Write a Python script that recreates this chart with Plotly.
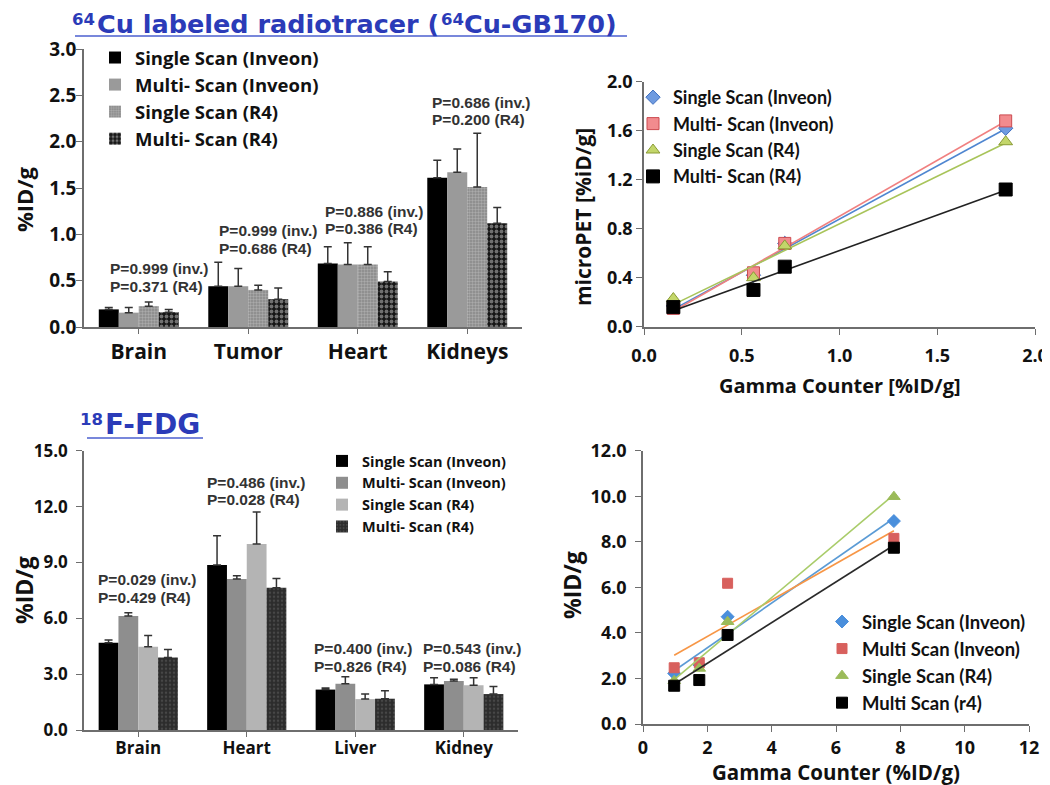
import numpy as np
import plotly.graph_objects as go

# ---------------- data ----------------
cu_organs = ["Brain", "Tumor", "Heart", "Kidneys"]
cu_single_inveon = [0.19, 0.44, 0.685, 1.61]
cu_single_inveon_err = [0.02, 0.26, 0.18, 0.19]
cu_multi_inveon = [0.155, 0.44, 0.675, 1.67]
cu_multi_inveon_err = [0.055, 0.19, 0.235, 0.25]
cu_single_r4 = [0.225, 0.40, 0.675, 1.51]
cu_single_r4_err = [0.045, 0.05, 0.19, 0.58]
cu_multi_r4 = [0.16, 0.30, 0.49, 1.12]
cu_multi_r4_err = [0.03, 0.12, 0.105, 0.17]
cu_p_inv = ["P=0.999 (inv.)", "P=0.999 (inv.)", "P=0.886 (inv.)", "P=0.686 (inv.)"]
cu_p_r4 = ["P=0.371 (R4)", "P=0.686 (R4)", "P=0.386 (R4)", "P=0.200 (R4)"]

cu_gamma = [0.15, 0.56, 0.72, 1.85]
cu_pet_single_inveon = [0.17, 0.42, 0.68, 1.62]
cu_pet_multi_inveon = [0.15, 0.44, 0.68, 1.68]
cu_pet_single_r4 = [0.23, 0.40, 0.66, 1.51]
cu_pet_multi_r4 = [0.16, 0.30, 0.49, 1.12]

fdg_organs = ["Brain", "Heart", "Liver", "Kidney"]
fdg_single_inveon = [4.69, 8.86, 2.17, 2.45]
fdg_single_inveon_err = [0.14, 1.57, 0.09, 0.36]
fdg_multi_inveon = [6.12, 8.11, 2.49, 2.63]
fdg_multi_inveon_err = [0.18, 0.18, 0.37, 0.09]
fdg_single_r4 = [4.47, 9.99, 1.66, 2.40]
fdg_single_r4_err = [0.61, 1.72, 0.27, 0.41]
fdg_multi_r4 = [3.90, 7.64, 1.68, 1.93]
fdg_multi_r4_err = [0.43, 0.50, 0.43, 0.40]
fdg_p_inv = ["P=0.029 (inv.)", "P=0.486 (inv.)", "P=0.400 (inv.)", "P=0.543 (inv.)"]
fdg_p_r4 = ["P=0.429 (R4)", "P=0.028 (R4)", "P=0.826 (R4)", "P=0.086 (R4)"]

fdg_gamma = [0.97, 1.75, 2.63, 7.8]
fdg_pet_single_inveon = [2.22, 2.60, 4.71, 8.91]
fdg_pet_multi_inveon = [2.47, 2.69, 6.18, 8.15]
fdg_pet_single_r4 = [1.90, 2.44, 4.49, 9.98]
fdg_pet_multi_r4 = [1.68, 1.93, 3.91, 7.74]

# ---------------- layout helpers ----------------
# the page body has an 8px margin, so the figure is 8px smaller on each side
OFF = 8
W, H = 1050 - OFF, 785 - OFF
def px(x):
    return (x - OFF) / W
def py(y):
    return 1 - (y - OFF) / H

OPEN = "'Open Sans', sans-serif"
LATO = "Lato, sans-serif"
ARIAL = "'Liberation Sans', Arial, sans-serif"
DEJA = "'DejaVu Sans', sans-serif"
AXC = "#6e6e6e"
BLUE = "#2b3bb8"

fig = go.Figure()

# ---------------- top-left bars ----------------
cu_bar_series = [
    ("Single Scan (Inveon)", cu_single_inveon, cu_single_inveon_err,
     dict(color="#000000")),
    ("Multi- Scan (Inveon)", cu_multi_inveon, cu_multi_inveon_err,
     dict(color="#9a9a9a")),
    ("Single Scan (R4)", cu_single_r4, cu_single_r4_err,
     dict(color="#888888", pattern=dict(shape=".", fgcolor="#aaaaaa", bgcolor="#888888",
                                       size=3, solidity=0.5, fillmode="replace"))),
    ("Multi- Scan (R4)", cu_multi_r4, cu_multi_r4_err,
     dict(color="#151515", pattern=dict(shape=".", fgcolor="#707070", bgcolor="#151515",
                                       size=5, solidity=0.45, fillmode="replace"))),
]
for name, vals, errs, mk in cu_bar_series:
    fig.add_trace(go.Bar(
        x=cu_organs, y=vals, name=name, marker=dict(line=dict(width=0), **mk),
        error_y=dict(type="data", symmetric=False, array=errs, arrayminus=[0] * len(errs),
                     color="#333333", thickness=1.5, width=4),
        xaxis="x", yaxis="y", legend="legend",
    ))

# ---------------- bottom-left bars ----------------
fdg_bar_series = [
    ("Single Scan (Inveon)", fdg_single_inveon, fdg_single_inveon_err,
     dict(color="#000000")),
    ("Multi- Scan (Inveon)", fdg_multi_inveon, fdg_multi_inveon_err,
     dict(color="#8e8e8e")),
    ("Single Scan (R4)", fdg_single_r4, fdg_single_r4_err,
     dict(color="#b4b4b4")),
    ("Multi- Scan (R4)", fdg_multi_r4, fdg_multi_r4_err,
     dict(color="#2c2c2c", pattern=dict(shape=".", fgcolor="#474747", bgcolor="#2c2c2c",
                                       size=4, solidity=0.3, fillmode="replace"))),
]
for name, vals, errs, mk in fdg_bar_series:
    fig.add_trace(go.Bar(
        x=fdg_organs, y=vals, name=name, marker=dict(line=dict(width=0), **mk),
        error_y=dict(type="data", symmetric=False, array=errs, arrayminus=[0] * len(errs),
                     color="#333333", thickness=1.5, width=4),
        xaxis="x3", yaxis="y3", legend="legend3",
    ))

# ---------------- scatter plots with linear trend lines ----------------
def add_scatter(xs, ys, name, symbol, color, edge, linecolor, size, xa, ya, leg):
    coef = np.polyfit(xs, ys, 1)
    lx = np.array([min(xs), max(xs)])
    fig.add_trace(go.Scatter(
        x=lx, y=np.polyval(coef, lx), mode="lines", line=dict(color=linecolor, width=1.6),
        showlegend=False, hoverinfo="skip", xaxis=xa, yaxis=ya,
    ))
    fig.add_trace(go.Scatter(
        x=xs, y=ys, mode="markers", name=name, legendgroup=leg + name,
        marker=dict(symbol=symbol, size=size, color=color, line=dict(color=edge, width=1)),
        xaxis=xa, yaxis=ya, legend=leg,
    ))

cu_scatter = [
    ("Single Scan (Inveon)", cu_pet_single_inveon, "diamond", "#6f9be0", "#3f6fc0", "#4f86d0", 11),
    ("Multi- Scan (Inveon)", cu_pet_multi_inveon, "square", "#f28b8e", "#cc4b50", "#f08080", 12),
    ("Single Scan (R4)", cu_pet_single_r4, "triangle-up", "#c3d66a", "#8a9b35", "#a8c45a", 12),
    ("Multi- Scan (R4)", cu_pet_multi_r4, "square", "#000000", "#000000", "#222222", 13),
]
for name, ys, sym, c, e, lc, s in cu_scatter:
    add_scatter(cu_gamma, ys, name, sym, c, e, lc, s, "x2", "y2", "legend2")

fdg_scatter = [
    ("Single Scan (Inveon)", fdg_pet_single_inveon, "diamond", "#4a8fdc", "#4a8fdc", "#5b9bd5", 10),
    ("Multi Scan (Inveon)", fdg_pet_multi_inveon, "square", "#d8605d", "#d8605d", "#f79646", 10),
    ("Single Scan (R4)", fdg_pet_single_r4, "triangle-up", "#9bbb59", "#9bbb59", "#a9cc6a", 11),
    ("Multi Scan (r4)", fdg_pet_multi_r4, "square", "#000000", "#000000", "#2a2a2a", 11),
]
for name, ys, sym, c, e, lc, s in fdg_scatter:
    add_scatter(fdg_gamma, ys, name, sym, c, e, lc, s, "x4", "y4", "legend4")

# ---------------- axes ----------------
def tf(size, family=OPEN):
    return dict(family=family, size=size, color="#111", weight="bold")

def axis_common(**kw):
    d = dict(showline=True, linecolor=AXC, linewidth=1.6, ticks="outside", ticklen=6,
             tickcolor=AXC, tickwidth=1.4, showgrid=False, zeroline=False, automargin=False,
             tickfont=tf(18))
    d.update(kw)
    return d

fig.update_layout(
    template="none",
    xaxis=axis_common(domain=[px(84), px(522)], anchor="y", tickfont=tf(21),
                      ticklen=5, ticklabelstandoff=0),
    yaxis=axis_common(domain=[py(327), py(49)], anchor="x", range=[0, 3.0], dtick=0.5,
                      tickformat=".1f", tickfont=tf(19), ticklabelstandoff=-4),
    xaxis2=axis_common(domain=[px(644), px(1035)], anchor="y2", range=[0, 2.0], dtick=0.5,
                       tickformat=".1f", ticklabelstandoff=6),
    yaxis2=axis_common(domain=[py(326.7), py(81.7)], anchor="x2", range=[0, 2.0], dtick=0.4,
                       tickformat=".1f", ticklabelstandoff=0),
    xaxis3=axis_common(domain=[px(84), px(518)], anchor="y3", tickfont=tf(17),
                       ticklen=5, ticklabelstandoff=-3),
    yaxis3=axis_common(domain=[py(730), py(450.7)], anchor="x3", range=[0, 15.0], dtick=3,
                       tickformat=".1f", tickfont=tf(17), ticklabelstandoff=5),
    xaxis4=axis_common(domain=[px(643), px(1029)], anchor="y4", range=[0, 12], dtick=2,
                       ticklabelstandoff=1),
    yaxis4=axis_common(domain=[py(724), py(450.7)], anchor="x4", range=[0, 12.0], dtick=2,
                       tickformat=".1f", ticklabelstandoff=5),
)

fig.update_layout(
    width=W, height=H, margin=dict(l=0, r=0, t=0, b=0, autoexpand=False),
    paper_bgcolor="white", plot_bgcolor="white",
    barmode="group", bargap=0.27, bargroupgap=0,
    legend=dict(x=px(95), y=py(39), xanchor="left", yanchor="top", bgcolor="rgba(0,0,0,0)",
                font=tf(18.5, OPEN)),
    legend2=dict(x=px(633), y=py(79), xanchor="left", yanchor="top", bgcolor="rgba(0,0,0,0)",
                 tracegroupgap=0, font=tf(18, LATO)),
    legend3=dict(x=px(322), y=py(445), xanchor="left", yanchor="top", bgcolor="rgba(0,0,0,0)",
                 font=tf(14.5, OPEN)),
    legend4=dict(x=px(822), y=py(603), xanchor="left", yanchor="top", bgcolor="rgba(0,0,0,0)",
                 tracegroupgap=0, font=tf(18.5, LATO)),
    showlegend=True,
)

# ---------------- text annotations ----------------
ann = []
def text(x, y, s, size, family=OPEN, color="#111", xanchor="center", angle=0, weight="bold"):
    ann.append(dict(x=px(x), y=py(y), xref="paper", yref="paper", text=s, showarrow=False,
                    xanchor=xanchor, yanchor="middle", textangle=angle, borderpad=0,
                    font=dict(family=family, size=size, color=color, weight=weight)))

# titles (superscripts as separate small texts so they sit at cap height)
text(96, 20, "64", 16.5, family=DEJA, color=BLUE, xanchor="right")
text(96, 23.5, "Cu labeled radiotracer (", 25.5, family=DEJA, color=BLUE, xanchor="left")
text(440, 20, "64", 16.5, family=DEJA, color=BLUE, xanchor="left")
text(463, 23.5, "Cu-GB170)", 25.5, family=DEJA, color=BLUE, xanchor="left")
text(104, 419.3, "18", 16.5, family=DEJA, color=BLUE, xanchor="right")
text(104, 424.3, "F-FDG", 28, family=DEJA, color=BLUE, xanchor="left")

# axis titles
text(24, 200, "%ID/g", 22, angle=-90)
text(583, 217, "microPET [%iD/g]", 21, angle=-90)
text(840, 385, "Gamma Counter [%ID/g]", 20)
text(24, 590, "%ID/g", 23, angle=-90)
text(572, 585, "%ID/g", 23, angle=-90)
text(836, 772, "Gamma Counter (%ID/g)", 20.5)

# p-values
cu_p_pos = [(109, 268), (218, 230), (324, 211), (431, 102)]
for (x0, y0), a, b in zip(cu_p_pos, cu_p_inv, cu_p_r4):
    text(x0, y0, a, 15.5, family=ARIAL, color="#333", xanchor="left")
    text(x0, y0 + 18, b, 15.5, family=ARIAL, color="#333", xanchor="left")
fdg_p_pos = [(97, 579), (206, 482), (313, 648), (422, 648)]
for (x0, y0), a, b in zip(fdg_p_pos, fdg_p_inv, fdg_p_r4):
    text(x0, y0, a, 15.5, family=ARIAL, color="#333", xanchor="left")
    text(x0, y0 + 18, b, 15.5, family=ARIAL, color="#333", xanchor="left")

fig.update_layout(annotations=ann)

# title underlines
fig.update_layout(shapes=[
    dict(type="line", xref="paper", yref="paper", x0=px(75), x1=px(627), y0=py(36), y1=py(36),
         line=dict(color="#4b5fcf", width=1.6)),
    dict(type="line", xref="paper", yref="paper", x0=px(87), x1=px(203), y0=py(438), y1=py(438),
         line=dict(color="#4b5fcf", width=1.6)),
])

fig.write_html("out.html")
